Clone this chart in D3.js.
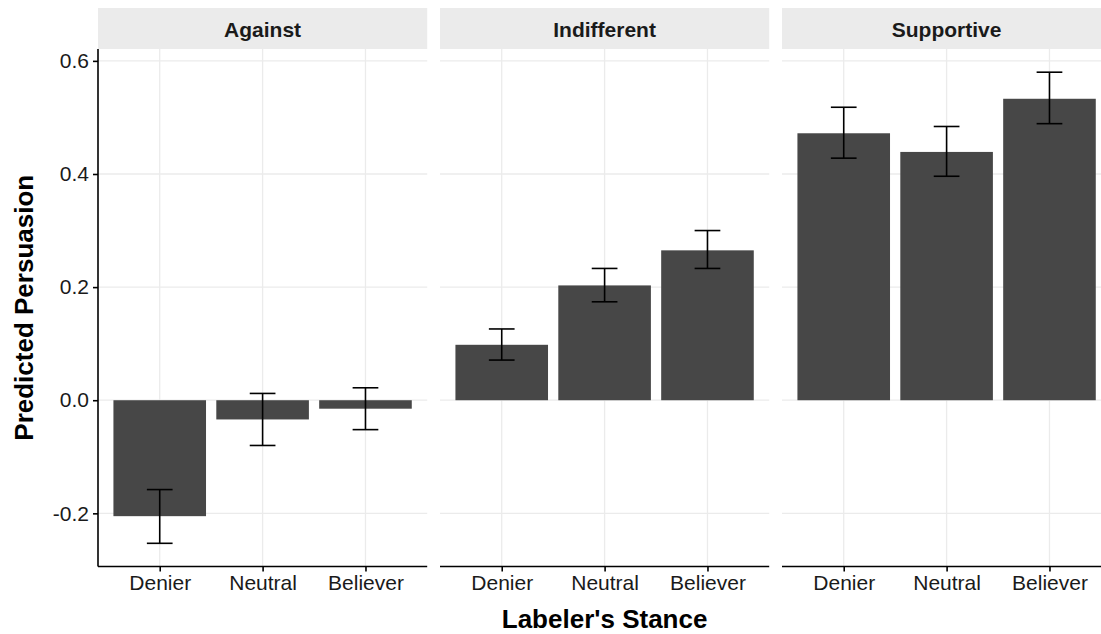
<!DOCTYPE html>
<html>
<head>
<meta charset="utf-8">
<script src="https://cdn.jsdelivr.net/npm/d3@7"></script>
<style>
  body { margin: 0; background: #fff; }
  text { font-family: "Liberation Sans", Arial, sans-serif; }
</style>
</head>
<body>
<script>
var panels = ["Against", "Indifferent", "Supportive"];
var stances = ["Denier", "Neutral", "Believer"];
// predicted persuasion per panel, in stance order
var estimate = [[-0.205, -0.034, -0.015],
                [0.098, 0.203, 0.265],
                [0.472, 0.439, 0.533]];
var lower = [[-0.253, -0.080, -0.052],
             [0.071, 0.174, 0.233],
             [0.428, 0.396, 0.489]];
var upper = [[-0.158, 0.012, 0.022],
             [0.126, 0.233, 0.300],
             [0.518, 0.484, 0.580]];
var yTicks = [-0.2, 0.0, 0.2, 0.4, 0.6];

var width = 1101, height = 634;
var left = 98, panelW = 329.2, gap = 12.8;
var plotTop = 49, plotBottom = 566.5;

var svg = d3.select("body").append("svg")
    .attr("width", width)
    .attr("height", height);

var y = d3.scaleLinear().domain([-0.294, 0.621]).range([plotBottom, plotTop]);

panels.forEach(function(p, i) {
  var x0 = left + i * (panelW + gap);
  var x = d3.scalePoint().domain(stances).range([x0, x0 + panelW]).padding(0.6);
  var step = x.step();
  var g = svg.append("g");

  // strip
  g.append("rect")
      .attr("x", x0).attr("y", 8)
      .attr("width", panelW).attr("height", plotTop - 8)
      .attr("fill", "#ebebeb");
  g.append("text")
      .attr("x", x0 + panelW / 2).attr("y", 29)
      .attr("text-anchor", "middle")
      .attr("dominant-baseline", "central")
      .attr("font-size", 21).attr("font-weight", "bold")
      .attr("fill", "#1a1a1a")
      .text(p);

  // grid
  g.selectAll(".hg").data(yTicks).enter().append("line")
      .attr("x1", x0).attr("x2", x0 + panelW)
      .attr("y1", d => y(d)).attr("y2", d => y(d))
      .attr("stroke", "#ebebeb").attr("stroke-width", 1.3);
  g.selectAll(".vg").data(stances).enter().append("line")
      .attr("x1", d => x(d)).attr("x2", d => x(d))
      .attr("y1", plotTop).attr("y2", plotBottom)
      .attr("stroke", "#ebebeb").attr("stroke-width", 1.3);

  var rows = stances.map(function(s, j) {
    return { s: s, v: estimate[i][j], lo: lower[i][j], hi: upper[i][j] };
  });

  // bars
  var bw = step * 0.9;
  g.selectAll(".bar").data(rows).enter().append("rect")
      .attr("x", d => x(d.s) - bw / 2)
      .attr("width", bw)
      .attr("y", d => y(Math.max(0, d.v)))
      .attr("height", d => Math.abs(y(d.v) - y(0)))
      .attr("fill", "#474747");

  // error bars
  var cw = step * 0.25;
  var eb = g.selectAll(".err").data(rows).enter().append("g")
      .attr("stroke", "#000").attr("stroke-width", 1.6).attr("fill", "none");
  eb.append("line").attr("x1", d => x(d.s)).attr("x2", d => x(d.s))
      .attr("y1", d => y(d.lo)).attr("y2", d => y(d.hi));
  eb.append("line").attr("x1", d => x(d.s) - cw / 2).attr("x2", d => x(d.s) + cw / 2)
      .attr("y1", d => y(d.lo)).attr("y2", d => y(d.lo));
  eb.append("line").attr("x1", d => x(d.s) - cw / 2).attr("x2", d => x(d.s) + cw / 2)
      .attr("y1", d => y(d.hi)).attr("y2", d => y(d.hi));

  // x axis
  var xa = g.append("g")
      .attr("transform", "translate(0," + plotBottom + ")")
      .call(d3.axisBottom(x).tickSize(5).tickPadding(4));
  xa.select(".domain").attr("stroke", "#000").attr("stroke-width", 1.6)
      .attr("d", "M" + x0 + ",0H" + (x0 + panelW));
  xa.selectAll(".tick line").attr("stroke", "#000").attr("stroke-width", 1.6);
  xa.selectAll(".tick text").attr("font-size", 21).attr("fill", "#1a1a1a")
      .attr("font-family", "Liberation Sans, Arial, sans-serif");

  if (i === 0) {
    var ya = g.append("g")
        .attr("transform", "translate(" + x0 + ",0)")
        .call(d3.axisLeft(y).tickValues(yTicks)
          .tickFormat(d => d.toFixed(1)).tickSize(5).tickPadding(4));
    ya.select(".domain").attr("stroke", "#000").attr("stroke-width", 1.6)
        .attr("d", "M0," + plotTop + "V" + plotBottom);
    ya.selectAll(".tick line").attr("stroke", "#000").attr("stroke-width", 1.6);
    ya.selectAll(".tick text").attr("font-size", 21).attr("fill", "#1a1a1a")
        .attr("font-family", "Liberation Sans, Arial, sans-serif");
  }
});

// axis titles
svg.append("text")
    .attr("x", left + (3 * panelW + 2 * gap) / 2).attr("y", 628)
    .attr("text-anchor", "middle")
    .attr("font-size", 26).attr("font-weight", "bold")
    .text("Labeler's Stance");
svg.append("text")
    .attr("transform", "translate(33," + (plotTop + plotBottom) / 2 + ") rotate(-90)")
    .attr("text-anchor", "middle")
    .attr("font-size", 26).attr("font-weight", "bold")
    .text("Predicted Persuasion");
</script>
</body>
</html>
